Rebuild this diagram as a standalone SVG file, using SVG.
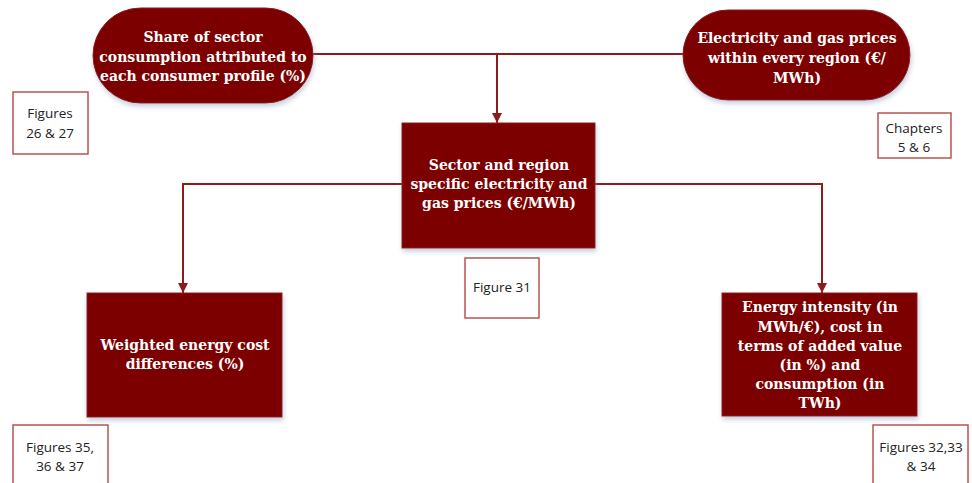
<svg xmlns="http://www.w3.org/2000/svg" width="972" height="483" viewBox="0 0 972 483">
  <defs>
    <filter id="shadow" x="-10%" y="-10%" width="120%" height="130%">
      <feDropShadow dx="1" dy="3" stdDeviation="2.5" flood-color="#7f93b3" flood-opacity="0.45"/>
    </filter>
    <marker id="arrow" viewBox="0 0 10 10" refX="10" refY="5" markerWidth="5" markerHeight="5" orient="auto" markerUnits="strokeWidth">
      <path d="M0,0 L10,5 L0,10 Z" fill="#8c1c1c"/>
    </marker>
  </defs>
  <style>
    .main { fill: #7b0000; stroke: #8a1a1a; stroke-width: 1; filter: url(#shadow); }
    .note { fill: #ffffff; stroke: #b85450; stroke-width: 1.5; }
    .mt { font-family: "DejaVu Serif", "Liberation Serif", serif; font-weight: bold; font-size: 14px; fill: #ffffff; text-anchor: middle; }
    .nt { font-family: "Open Sans", "Liberation Sans", sans-serif; font-size: 13.5px; fill: #222222; text-anchor: middle; }
    .conn { stroke: #8c1c1c; stroke-width: 2; fill: none; }
  </style>

  <rect width="972" height="483" fill="#ffffff"/>

  <!-- connectors -->
  <g id="connectors">
    <path class="conn" d="M313,54 H683"/>
    <path class="conn" d="M497,54 V123" marker-end="url(#arrow)"/>
    <path class="conn" d="M402,184 H183 V293" marker-end="url(#arrow)"/>
    <path class="conn" d="M595,184 H822 V293" marker-end="url(#arrow)"/>
  </g>

  <!-- input: consumer profile shares -->
  <g id="share">
    <rect class="main" x="93" y="8" width="220" height="95" rx="47.5"/>
    <text class="mt" x="203" y="42">Share of sector</text>
    <text class="mt" x="203" y="62">consumption attributed to</text>
    <text class="mt" x="203" y="81">each consumer profile (%)</text>
  </g>

  <!-- input: regional prices -->
  <g id="prices">
    <rect class="main" x="683" y="10" width="227" height="90" rx="45"/>
    <text class="mt" x="797" y="43">Electricity and gas prices</text>
    <text class="mt" x="797" y="63">within every region (€/</text>
    <text class="mt" x="797" y="83">MWh)</text>
  </g>

  <!-- sector/region prices -->
  <g id="sector-prices">
    <rect class="main" x="402" y="123" width="193" height="125"/>
    <text class="mt" x="499" y="170">Sector and region</text>
    <text class="mt" x="499" y="189">specific electricity and</text>
    <text class="mt" x="499" y="208">gas prices (€/MWh)</text>
  </g>

  <!-- weighted cost differences -->
  <g id="weighted">
    <rect class="main" x="87" y="293" width="195" height="124"/>
    <text class="mt" x="185" y="350">Weighted energy cost</text>
    <text class="mt" x="185" y="369">differences (%)</text>
  </g>

  <!-- energy intensity -->
  <g id="intensity">
    <rect class="main" x="722" y="293" width="195" height="123"/>
    <text class="mt" x="820" y="312">Energy intensity (in</text>
    <text class="mt" x="820" y="332">MWh/€), cost in</text>
    <text class="mt" x="820" y="351">terms of added value</text>
    <text class="mt" x="820" y="370">(in %) and</text>
    <text class="mt" x="820" y="389">consumption (in</text>
    <text class="mt" x="820" y="408">TWh)</text>
  </g>

  <!-- reference notes -->
  <g id="note-26-27">
    <rect class="note" x="13" y="92" width="75" height="62"/>
    <text class="nt" x="50" y="118">Figures</text>
    <text class="nt" x="50" y="138">26 &amp; 27</text>
  </g>
  <g id="note-ch-5-6">
    <rect class="note" x="878" y="113" width="73" height="45"/>
    <text class="nt" x="914" y="133">Chapters</text>
    <text class="nt" x="914" y="152">5 &amp; 6</text>
  </g>
  <g id="note-31">
    <rect class="note" x="465" y="258" width="74" height="60"/>
    <text class="nt" x="502" y="292">Figure 31</text>
  </g>
  <g id="note-35-37">
    <rect class="note" x="13" y="425" width="95" height="65"/>
    <text class="nt" x="60" y="452">Figures 35,</text>
    <text class="nt" x="60" y="471">36 &amp; 37</text>
  </g>
  <g id="note-32-34">
    <rect class="note" x="873" y="425" width="95" height="65"/>
    <text class="nt" x="921" y="452">Figures 32,33</text>
    <text class="nt" x="921" y="471">&amp; 34</text>
  </g>
</svg>
